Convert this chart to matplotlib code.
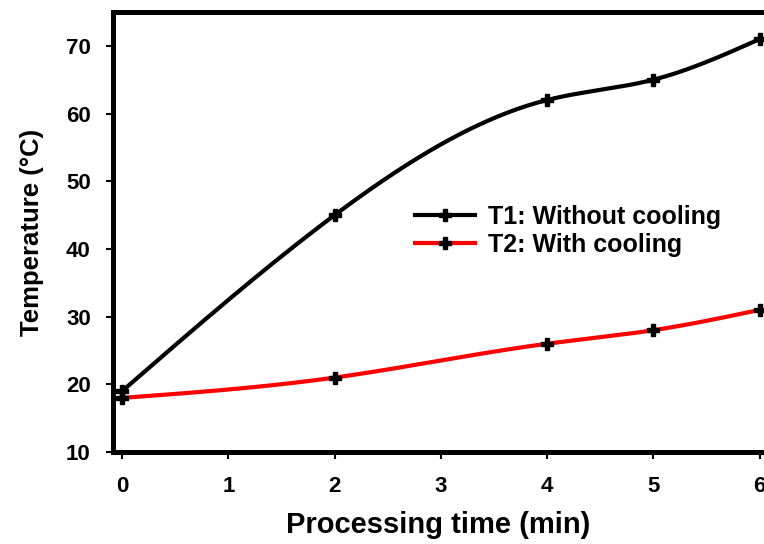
import numpy as np
import matplotlib.pyplot as plt

# data
time_min = [0, 2, 4, 5, 6]
t1_no_cooling = [19, 45, 62, 65, 71]
t2_cooling = [18, 21, 26, 28, 31]


def natural_spline(x, y, n=200):
    # natural cubic spline, only used to draw the smooth curve
    x = np.asarray(x, float)
    y = np.asarray(y, float)
    k = len(x)
    h = np.diff(x)
    A = np.zeros((k, k))
    b = np.zeros(k)
    A[0, 0] = A[-1, -1] = 1
    for i in range(1, k - 1):
        A[i, i - 1] = h[i - 1]
        A[i, i] = 2 * (h[i - 1] + h[i])
        A[i, i + 1] = h[i]
        b[i] = 6 * ((y[i + 1] - y[i]) / h[i] - (y[i] - y[i - 1]) / h[i - 1])
    m = np.linalg.solve(A, b)
    xs = np.linspace(x[0], x[-1], n)
    idx = np.clip(np.searchsorted(x, xs) - 1, 0, k - 2)
    x0, x1 = x[idx], x[idx + 1]
    hh = x1 - x0
    ys = (m[idx] * (x1 - xs) ** 3 / (6 * hh) + m[idx + 1] * (xs - x0) ** 3 / (6 * hh)
          + (y[idx] / hh - m[idx] * hh / 6) * (x1 - xs)
          + (y[idx + 1] / hh - m[idx + 1] * hh / 6) * (xs - x0))
    return xs, ys


plt.rcParams['font.family'] = ['Liberation Sans', 'DejaVu Sans']
plt.rcParams['font.weight'] = 'bold'

fig = plt.figure(figsize=(7.64, 5.44), dpi=100)
ax = fig.add_axes([0.148, 0.169, 0.852, 0.809])

for yv, col, lab in [(t1_no_cooling, 'black', 'T1: Without cooling'),
                     (t2_cooling, 'red', 'T2: With cooling')]:
    xs, ys = natural_spline(time_min, yv)
    ax.plot(xs, ys, color=col, lw=3, zorder=2)
    ax.plot(time_min, yv, ls='none', marker='P', ms=8, color='black', zorder=3)
    ax.plot([], [], color=col, lw=3, marker='P', ms=8, mfc='black', mec='black', label=lab)

ax.set_xlim(-0.085, 6.04)
ax.set_ylim(10, 75)
ax.set_xticks([0, 1, 2, 3, 4, 5, 6])
ax.set_yticks([10, 20, 30, 40, 50, 60, 70])
ax.tick_params(labelsize=16, width=1.5, length=5, direction='out')
ax.tick_params(axis='x', pad=12)
ax.tick_params(axis='y', pad=11)
for t in ax.get_xticklabels() + ax.get_yticklabels():
    t.set_fontweight('bold')

for s in ['left', 'bottom', 'top']:
    ax.spines[s].set_linewidth(3.6)
ax.spines['right'].set_visible(False)

ax.set_xlabel('Processing time (min)', fontsize=21, fontweight='bold', labelpad=10)
ax.set_ylabel('Temperature (°C)', fontsize=18.5, fontweight='bold', labelpad=16)

ax.legend(loc='upper left', bbox_to_anchor=(0.464, 0.562), frameon=False,
          prop={'size': 18, 'weight': 'bold'}, handlelength=2.4,
          labelspacing=0.17, handletextpad=0.5, borderpad=0, borderaxespad=0)

fig.savefig('out.png', dpi=100)
